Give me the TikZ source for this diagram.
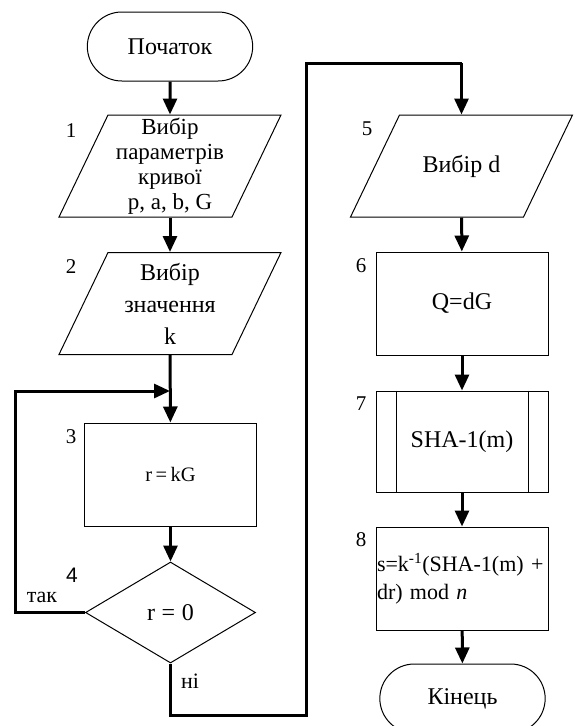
\documentclass[tikz,border=0pt]{standalone}
\usepackage{fontspec}
\setmainfont{Liberation Serif}
\newfontfamily\labsans{Liberation Sans}
\usetikzlibrary{shapes.geometric,shapes.misc,arrows.meta,calc}
\tikzset{
	blk/.style={line width=1pt, font=\fontsize{24}{26}\selectfont},
	term/.style={blk, draw, rounded rectangle, minimum width=172pt, minimum height=69pt},
	datain/.style={blk, rectangle, minimum width=172pt, minimum height=102pt, align=center, inner sep=0pt},
	proc/.style={blk, draw, rectangle, minimum width=172pt, minimum height=103pt},
	decis/.style={blk, draw, diamond, minimum width=170pt, minimum height=101pt, inner sep=1pt},
	numb/.style={font=\fontsize{21}{23}\selectfont},
	flow/.style={line width=3pt, -{Triangle[length=16pt,width=14pt]}},
	wire/.style={line width=3pt}
}
\newcommand{\slantbox}[1]{\draw[line width=1pt] ($(#1)+(-62,-51)$) -- ($(#1)+(111,-51)$)
	-- ($(#1)+(62,51)$) -- ($(#1)+(-111,51)$) -- cycle;}
\begin{document}
\begin{tikzpicture}[x=1pt, y=-1pt, line join=miter]
	\useasboundingbox (0,0) rectangle (574,726);
	% left column
	\node[term] (start) at (170,46.5) {Початок};
	\node[datain, font=\fontsize{23}{25}\selectfont] (p1) at (170,166) {Вибір\\параметрів\\кривої\\p, a, b, G};
	\node[datain] (p2) at (170,303.5) {Вибір\\[6pt]значення\\[6pt]k};
	\node[proc, font=\fontsize{20.5}{22}\selectfont] (b3) at (170.5,474.5) {r\,=\,kG};
	\node[decis] (d4) at (170.5,612.5) {r\;=\;0};
	\slantbox{p1}
	\slantbox{p2}
	% right column
	\node[datain] (p5) at (461.5,166) {Вибір d};
	\slantbox{p5}
	\node[proc] (b6) at (462,303.5) {Q=dG};
	\node[proc, minimum height=101pt] (b7) at (462,441.5) {SHA-1(m)};
	\draw[line width=1pt] ($(b7.north west)+(21,0)$) -- ($(b7.south west)+(21,0)$)
		($(b7.north east)+(-20,0)$) -- ($(b7.south east)+(-20,0)$);
	\node[proc, text width=170pt, align=left, inner sep=1pt, font=\fontsize{22}{28}\selectfont] (b8) at (462,578.5)
		{s=k\textsuperscript{-1}(SHA-1(m)~+\\dr) mod \textit{n}};
	\node[term] (stop) at (462.5,698.5) {Кінець};
	% numbers
	\node[numb] (n1) at (71,131) {1};
	\node[numb] (n2) at (71,267) {2};
	\node[numb] (n3) at (71,437) {3};
	\node[numb, font=\labsans\fontsize{21}{23}\selectfont] (n4) at (72,575) {4};
	\node[numb] (n5) at (367,129) {5};
	\node[numb] (n6) at (361,266) {6};
	\node[numb] (n7) at (361,404) {7};
	\node[numb] (n8) at (361,540) {8};
	\node[font=\fontsize{22}{24}\selectfont] (lyes) at (42,597) {так};
	\node[font=\fontsize{22}{24}\selectfont] (lno) at (190,681) {ні};
	% connectors
	\coordinate (lpA) at (15,612.5);
	\coordinate (lpB) at (15,391);
	\coordinate (lpC) at (170,391);
	\coordinate (exA) at (170.5,715);
	\coordinate (exB) at (306,715);
	\coordinate (exC) at (306,63);
	\coordinate (exD) at (461.5,63);
	\draw[flow] (start) -- (p1);
	\draw[flow] (p1) -- (p2);
	\draw[flow] (p2) -- (b3);
	\draw[flow] (b3) -- (d4);
	\draw[flow] (d4.west) -- (lpA) -- (lpB) -- (lpC);
	\draw[wire] (d4.south) -- (exA) -- (exB) -- (exC) -- (exD);
	\draw[flow] (exD) -- (p5.north);
	\draw[flow] (p5) -- (b6);
	\draw[flow] (b6) -- (b7);
	\draw[flow] (b7) -- (b8);
	\draw[flow] (b8) -- (stop);
\end{tikzpicture}
\end{document}
